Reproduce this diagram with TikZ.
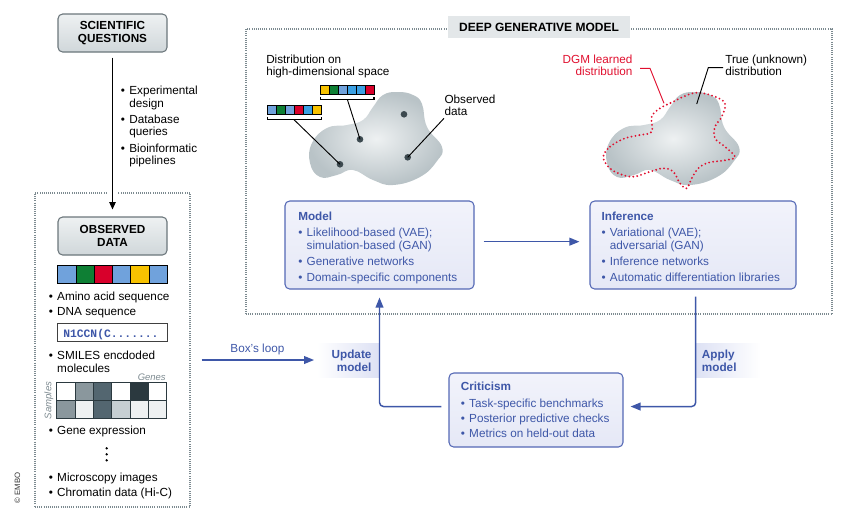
\documentclass[tikz,border=0pt]{standalone}
\usepackage{fontspec}
\setmainfont{Liberation Sans}
\setmonofont{Liberation Mono}
\usetikzlibrary{arrows.meta}

\definecolor{dgmblue}{HTML}{3E57A8}
\definecolor{boxline}{HTML}{5468B5}
\definecolor{boxhi}{HTML}{F2F3FB}
\definecolor{boxlo}{HTML}{E5E8F6}
\definecolor{lavend}{HTML}{DDE1F4}
\definecolor{grayline}{HTML}{6B767B}
\definecolor{grayhi}{HTML}{EEF1F2}
\definecolor{graylo}{HTML}{D0D7DA}
\definecolor{framegray}{HTML}{7C8A90}
\definecolor{titlegray}{HTML}{E3E7E9}
\definecolor{dgmred}{HTML}{E0102F}
\definecolor{cblue}{HTML}{70A2DC}
\definecolor{cgreen}{HTML}{0E7F34}
\definecolor{cred}{HTML}{D8002B}
\definecolor{cyellow}{HTML}{F7C200}
\definecolor{csky}{HTML}{3BA0E3}
\definecolor{hmA}{HTML}{8A979D}
\definecolor{hmB}{HTML}{536670}
\definecolor{hmC}{HTML}{2B393F}
\definecolor{hmD}{HTML}{C6CFD3}
\definecolor{hmE}{HTML}{EEF1F2}
\definecolor{dotgray}{HTML}{3C494F}
\definecolor{bloblo}{HTML}{B9C3C7}
\definecolor{blobhi}{HTML}{EEF1F2}
\definecolor{labgray}{HTML}{7D8A90}

\begin{document}
\begin{tikzpicture}[x=0.75pt,y=0.75pt,yscale=-1,xscale=1,
    every node/.style={font=\fontsize{8.8}{9.4}\selectfont},
    graybox/.style={draw=grayline, line width=0.8pt, rounded corners=3.5pt, top color=grayhi, bottom color=graylo, minimum width=81.75pt, minimum height=28.5pt, align=center, inner sep=0pt, font=\bfseries\fontsize{8.8}{10.1}\selectfont},
    bluebox/.style={draw=boxline, line width=0.8pt, rounded corners=3.5pt, top color=boxhi, bottom color=boxlo, minimum height=66pt, inner sep=0pt},
    listtext/.style={anchor=base west, inner sep=0pt},
    framebox/.style={draw=framegray, line width=0.8pt, dash pattern=on 0.6pt off 1pt, inner sep=0pt},
    bluearrow/.style={draw=dgmblue, line width=1.1pt, rounded corners=3pt, -{Triangle[length=7.5pt,width=5.8pt]}},
    blackarrow/.style={draw=black, line width=0.8pt, -{Triangle[length=5.5pt,width=4.8pt]}},
    cell/.style={draw=black, line width=0.6pt}
  ]
  \useasboundingbox (0,0) rectangle (852,522);

  % Frames
  \node[framebox, minimum width=116.25pt, minimum height=235.5pt] (obsframe) at (112.5,350) {};
  \node[framebox, minimum width=439.5pt, minimum height=213.75pt] (dgmframe) at (539,171.5) {};
  \node[fill=titlegray, minimum width=136.5pt, minimum height=16.5pt, inner sep=0pt, font=\bfseries\fontsize{9}{10}\selectfont] (dgmtitle) at (539,27) {DEEP GENERATIVE MODEL};
  \fill[white] (108,189) rectangle (118,197);

  % Scientific questions
  \node[graybox] (sq) at (112.5,33) {SCIENTIFIC\\QUESTIONS};
  \node[listtext] (sqlist) at (120.7,94.5) {\begin{tabular}[t]{@{}l@{\hspace{3.2pt}}l@{}}
      \textbullet & Experimental\\ & design\\[2.8pt]
      \textbullet & Database\\ & queries\\[2.8pt]
      \textbullet & Bioinformatic\\ & pipelines
    \end{tabular}};

  % Observed data
  \node[graybox] (od) at (112.5,236) {OBSERVED\\DATA};
  %Sequence bar
  \fill[cblue] (57.7,265) rectangle (76,283.3);
  \fill[cgreen] (76,265) rectangle (94.2,283.3);
  \fill[cred] (94.2,265) rectangle (112.5,283.3);
  \fill[cblue] (112.5,265) rectangle (130.8,283.3);
  \fill[cyellow] (130.8,265) rectangle (149,283.3);
  \fill[cblue] (149,265) rectangle (167.3,283.3);
  \draw[cell] (57.7,265) rectangle (167.3,283.3);
  \draw[cell] (76,265) -- (76,283.3) (94.2,265) -- (94.2,283.3) (112.5,265) -- (112.5,283.3) (130.8,265) -- (130.8,283.3) (149,265) -- (149,283.3);
  \node[listtext] (seqlist) at (48.6,300.5) {\begin{tabular}[t]{@{}l@{\hspace{3.2pt}}l@{}}
      \textbullet & Amino acid sequence\\[1.5pt]
      \textbullet & DNA sequence
    \end{tabular}};
  %SMILES
  \node[draw=black!75, line width=0.8pt, fill=white, minimum width=82.2pt, minimum height=13.8pt, inner sep=0pt] (smilesbox) at (112.5,332.5) {};
  \node[listtext, text=dgmblue, font=\ttfamily\bfseries\fontsize{8.5}{9}\selectfont] (smilestxt) at (63,337.5) {N1CCN(C.......};
  \node[listtext] (smileslist) at (48.6,359.5) {\begin{tabular}[t]{@{}l@{\hspace{3.2pt}}l@{}}
      \textbullet & SMILES encdoded\\ & molecules
    \end{tabular}};
  %Heat map
  \node[anchor=base east, inner sep=0pt, text=labgray, font=\itshape\fontsize{7.1}{8}\selectfont] (geneslbl) at (166,380) {Genes};
  \node[rotate=90, inner sep=0pt, text=labgray, font=\itshape\fontsize{7.2}{8}\selectfont] (sampleslbl) at (49,400.5) {Samples};
  \fill[white] (56.7,382.7) rectangle (75,400.7);
  \fill[hmA] (75,382.7) rectangle (93.3,400.7);
  \fill[hmB] (93.3,382.7) rectangle (111.7,400.7);
  \fill[white] (111.7,382.7) rectangle (130,400.7);
  \fill[hmC] (130,382.7) rectangle (148.3,400.7);
  \fill[white] (148.3,382.7) rectangle (166.7,400.7);
  \fill[hmA] (56.7,400.7) rectangle (75,418.3);
  \fill[hmE] (75,400.7) rectangle (93.3,418.3);
  \fill[hmB] (93.3,400.7) rectangle (111.7,418.3);
  \fill[hmD] (111.7,400.7) rectangle (130,418.3);
  \fill[hmE] (130,400.7) rectangle (148.3,418.3);
  \fill[hmE] (148.3,400.7) rectangle (166.7,418.3);
  \draw[cell, draw=hmC] (56.7,382.7) rectangle (166.7,418.3);
  \draw[cell, draw=hmC] (56.7,400.7) -- (166.7,400.7) (75,382.7) -- (75,418.3) (93.3,382.7) -- (93.3,418.3) (111.7,382.7) -- (111.7,418.3) (130,382.7) -- (130,418.3) (148.3,382.7) -- (148.3,418.3);
  \node[listtext] (genelist) at (48.6,434.5) {\begin{tabular}[t]{@{}l@{\hspace{3.2pt}}l@{}}
      \textbullet & Gene expression
    \end{tabular}};
  \fill (106.7,448.3) circle (1.3) (106.7,454.3) circle (1.3) (106.7,460.3) circle (1.3);
  \node[listtext] (imglist) at (48.6,481) {\begin{tabular}[t]{@{}l@{\hspace{3.2pt}}l@{}}
      \textbullet & Microscopy images\\[1.85pt]
      \textbullet & Chromatin data (Hi-C)
    \end{tabular}};
  \node[rotate=90, inner sep=0pt, text=black!80, font=\fontsize{5.8}{7}\selectfont] (embo) at (17.5,488) {© EMBO};

  % Left blob: observed data
  \shade[inner color=blobhi, outer color=bloblo] plot[smooth cycle, tension=0.75] coordinates {(383,95) (398,92) (413,95) (422,104) (427,127) (442,147) (437,161) (420,177) (393,185) (373,180) (353,170) (337,175) (320,177) (310,163) (312,143) (327,128) (347,125) (363,120) (373,107)};
  \coordinate (dotA) at (404,114.3);
  \coordinate (dotB) at (360,139.3);
  \coordinate (dotC) at (340,164.3);
  \coordinate (dotD) at (407.7,157.3);
  \fill[dotgray] (dotA) circle (3.3) (dotB) circle (3.3) (dotC) circle (3.3) (dotD) circle (3.3);
  %Upper bar
  \fill[cyellow] (320.7,85.7) rectangle (329.6,94.3);
  \fill[cgreen] (329.6,85.7) rectangle (338.5,94.3);
  \fill[cblue] (338.5,85.7) rectangle (347.4,94.3);
  \fill[csky] (347.4,85.7) rectangle (356.2,94.3);
  \fill[csky] (356.2,85.7) rectangle (365.1,94.3);
  \fill[cred] (365.1,85.7) rectangle (374,94.3);
  \draw[cell] (320.7,85.7) rectangle (374,94.3);
  \draw[cell] (329.6,85.7) -- (329.6,94.3) (338.5,85.7) -- (338.5,94.3) (347.4,85.7) -- (347.4,94.3) (356.2,85.7) -- (356.2,94.3) (365.1,85.7) -- (365.1,94.3);
  \draw[line width=0.8pt] (320.7,96.5) -- (320.7,99.3) -- (374,99.3) -- (374,96.5);
  \coordinate (brkA) at (347.3,99.3);
  %Lower bar
  \fill[cblue] (267.7,105.7) rectangle (276.7,114.3);
  \fill[cgreen] (276.7,105.7) rectangle (285.7,114.3);
  \fill[cblue] (285.7,105.7) rectangle (294.7,114.3);
  \fill[cred] (294.7,105.7) rectangle (303.7,114.3);
  \fill[csky] (303.7,105.7) rectangle (312.7,114.3);
  \fill[cyellow] (312.7,105.7) rectangle (321.7,114.3);
  \draw[cell] (267.7,105.7) rectangle (321.7,114.3);
  \draw[cell] (276.7,105.7) -- (276.7,114.3) (285.7,105.7) -- (285.7,114.3) (294.7,105.7) -- (294.7,114.3) (303.7,105.7) -- (303.7,114.3) (312.7,105.7) -- (312.7,114.3);
  \draw[line width=0.8pt] (267.7,116.7) -- (267.7,119.7) -- (321.7,119.7) -- (321.7,116.7);
  \coordinate (brkB) at (294,119.7);
  \draw[line width=0.7pt] (brkA) -- (dotB);
  \draw[line width=0.7pt] (brkB) -- (dotC);
  % Text Node
  \node[listtext] (distlbl) at (266,63.3) {\begin{tabular}[t]{@{}l@{}}Distribution on\\high-dimensional space\end{tabular}};
  \node[listtext] (obslbl) at (444.3,103.3) {\begin{tabular}[t]{@{}l@{}}Observed\\data\end{tabular}};
  \coordinate (obsstart) at (444,118.3);
  \draw[line width=0.7pt] (obsstart) -- (dotD);

  % Right blob: learned vs true distribution
  \begin{scope}[shift={(297,0)}]
    \shade[inner color=blobhi, outer color=bloblo] plot[smooth cycle, tension=0.75] coordinates {(383,95) (398,92) (413,95) (422,104) (427,127) (442,147) (437,161) (420,177) (393,185) (373,180) (353,170) (337,175) (320,177) (310,163) (312,143) (327,128) (347,125) (363,120) (373,107)};
  \end{scope}
  \draw[dgmred, line width=1.55pt, dash pattern=on 0pt off 3pt, line cap=round] plot[smooth cycle, tension=0.6] coordinates {(603.3,156.7) (610,146.7) (625,138.3) (640,135) (651.7,131.7) (651.7,116.7) (660,108.3) (673.3,101.7) (683.3,96.7) (696.7,92.7) (713.3,96) (725,103.3) (721.7,116.7) (715,126.7) (715,138.3) (725,146.7) (735,156.7) (726.7,160) (708.3,162.7) (698.3,168.3) (691.7,178.3) (686.7,188.3) (680,183.3) (673.3,171.7) (663.3,168.3) (650,171.7) (633.3,176.7) (618.3,173.3) (608.3,166.7)};
  % Text Node
  \node[anchor=base east, inner sep=0pt, text=dgmred] (dgmlbl) at (632.7,63.3) {\begin{tabular}[t]{@{}r@{}}DGM learned\\distribution\end{tabular}};
  \node[listtext] (truelbl) at (725,63.3) {\begin{tabular}[t]{@{}l@{}}True (unknown)\\distribution\end{tabular}};
  \coordinate (redstart) at (640,68.3);
  \coordinate (redbend) at (650,68.3);
  \coordinate (redend) at (664,103.3);
  \draw[dgmred, line width=0.7pt] (redstart) -- (redbend) -- (redend);
  \coordinate (truestart) at (723,67.7);
  \coordinate (truebend) at (708.3,67.7);
  \coordinate (trueend) at (696.7,104);
  \draw[line width=0.7pt] (truestart) -- (truebend) -- (trueend);

  % Model, inference, criticism
  \node[bluebox, minimum width=141.75pt] (model) at (379.5,245) {};
  \node[listtext, text=dgmblue] (modeltxt) at (298,220) {\begin{tabular}[t]{@{}l@{\hspace{3.2pt}}l@{}}
      \multicolumn{2}{@{}l@{}}{\bfseries Model}\\[3pt]
      \textbullet & Likelihood-based (VAE);\\ & simulation-based (GAN)\\[2.6pt]
      \textbullet & Generative networks\\[2.6pt]
      \textbullet & Domain-specific components
    \end{tabular}};
  \node[bluebox, minimum width=154.5pt] (infer) at (693,245) {};
  \node[listtext, text=dgmblue] (infertxt) at (601.3,220) {\begin{tabular}[t]{@{}l@{\hspace{3.2pt}}l@{}}
      \multicolumn{2}{@{}l@{}}{\bfseries Inference}\\[3pt]
      \textbullet & Variational (VAE);\\ & adversarial (GAN)\\[2.6pt]
      \textbullet & Inference networks\\[2.6pt]
      \textbullet & Automatic differentiation libraries
    \end{tabular}};
  \node[bluebox, minimum width=130.5pt, minimum height=55.5pt] (crit) at (536,410) {};
  \node[listtext, text=dgmblue] (crittxt) at (460.6,390.5) {\begin{tabular}[t]{@{}l@{\hspace{3.2pt}}l@{}}
      \multicolumn{2}{@{}l@{}}{\bfseries Criticism}\\[3pt]
      \textbullet & Task-specific benchmarks\\[2pt]
      \textbullet & Posterior predictive checks\\[2pt]
      \textbullet & Metrics on held-out data
    \end{tabular}};

  % Loop labels
  \node[shade, left color=white, right color=lavend, minimum width=46.5pt, minimum height=25.5pt, inner sep=0pt] (upd) at (348,360) {};
  \node[anchor=base east, inner sep=0pt, text=dgmblue, font=\bfseries\fontsize{8.8}{9.4}\selectfont] (updtxt) at (371.7,358.5) {\begin{tabular}[t]{@{}r@{}}Update\\model\end{tabular}};
  \node[shade, left color=lavend, right color=white, minimum width=48.75pt, minimum height=25.5pt, inner sep=0pt] (apl) at (728,360) {};
  \node[anchor=base west, inner sep=0pt, text=dgmblue, font=\bfseries\fontsize{8.8}{9.4}\selectfont] (apltxt) at (701.7,358.5) {\begin{tabular}[t]{@{}l@{}}Apply\\model\end{tabular}};

  % Connectors
  \draw[blackarrow, shorten <=3.75pt, shorten >=5.25pt] (sq) -- (od);
  \draw[bluearrow, shorten <=6.75pt, shorten >=7.5pt] ([yshift=-2.5pt]model.east) -- ([yshift=-2.5pt]infer.west);
  \draw[bluearrow, shorten <=5.25pt, shorten >=5.25pt] ([xshift=2pt]infer.south) |- ([yshift=-2.6pt]crit.east);
  \draw[bluearrow, shorten <=5.25pt, shorten >=6pt] ([yshift=-2.6pt]crit.west) -| (model.south);
  \draw[bluearrow, shorten <=8.25pt, shorten >=2pt] (obsframe.east |- upd.west) -- (upd.west) node[pos=0.53, above=3pt, inner sep=0pt, text=dgmblue] (boxloop) {Box’s loop};
\end{tikzpicture}
\end{document}
